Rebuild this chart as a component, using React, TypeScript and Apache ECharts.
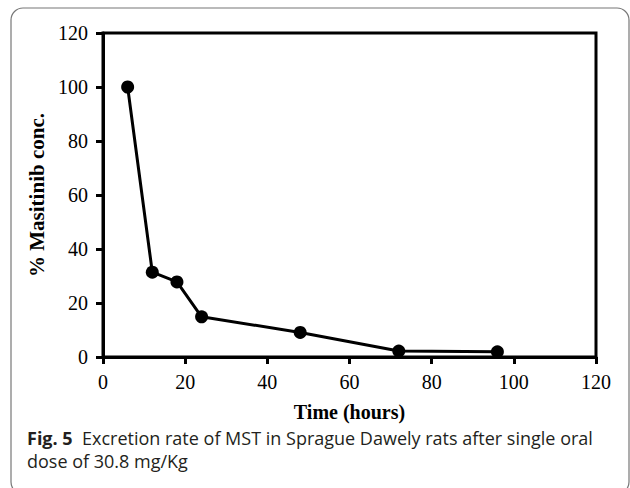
import React, { useEffect, useRef } from "react";
import * as echarts from "echarts";

const hours = [6, 12, 18, 24, 48, 72, 96];
const concentration = [100, 31.4, 27.8, 14.9, 9.1, 2.2, 1.9];
const xTicks = [0, 20, 40, 60, 80, 100, 120];
const yTicks = [0, 20, 40, 60, 80, 100, 120];
const xTitle = "Time (hours)";
const yTitle = "% Masitinib conc.";
const captionBold = "Fig. 5";
const captionLine1 = "  Excretion rate of MST in Sprague Dawely rats after single oral";
const captionLine2 = "dose of 30.8 mg/Kg";

export default function App() {
  const ref = useRef<HTMLDivElement>(null);
  useEffect(() => {
    if (!ref.current) return;
    const chart = echarts.init(ref.current, null, { renderer: "svg" });
    const serif = "'Liberation Serif', serif";
    const sans = "'Open Sans', 'Noto Sans', sans-serif";
    chart.setOption({
      animation: false,
      backgroundColor: "#fff",
      grid: {
        left: 103,
        right: 34,
        top: 33,
        bottom: 131,
        show: true,
        borderColor: "#000",
        borderWidth: 3,
      },
      xAxis: {
        type: "value",
        min: xTicks[0],
        max: xTicks[xTicks.length - 1],
        interval: 20,
        name: xTitle,
        nameLocation: "middle",
        nameGap: 45,
        nameTextStyle: { fontFamily: serif, fontWeight: "bold", fontSize: 20, color: "#000" },
        axisLine: { show: true, lineStyle: { color: "#000", width: 3 } },
        axisTick: { show: true, length: 7, lineStyle: { color: "#000", width: 3 } },
        axisLabel: { margin: 15, fontFamily: serif, fontSize: 20, color: "#000" },
        splitLine: { show: false },
      },
      yAxis: {
        type: "value",
        min: yTicks[0],
        max: yTicks[yTicks.length - 1],
        interval: 20,
        name: yTitle,
        nameLocation: "middle",
        nameGap: 48,
        nameRotate: 90,
        nameTextStyle: { fontFamily: serif, fontWeight: "bold", fontSize: 21, color: "#000" },
        axisLine: { show: true, lineStyle: { color: "#000", width: 3 } },
        axisTick: { show: true, length: 7, lineStyle: { color: "#000", width: 3 } },
        axisLabel: { margin: 15, fontFamily: serif, fontSize: 20, color: "#000" },
        splitLine: { show: false },
      },
      series: [
        {
          type: "line",
          data: hours.map((h, i) => [h, concentration[i]]),
          symbol: "circle",
          symbolSize: 13,
          lineStyle: { color: "#000", width: 3 },
          itemStyle: { color: "#000" },
        },
      ],
      graphic: [
        {
          type: "rect",
          shape: { x: 11, y: 8, width: 618, height: 486, r: 12 },
          style: { fill: "none", stroke: "#777", lineWidth: 1.2 },
          silent: true,
        },
        {
          type: "text",
          left: 27,
          top: 429,
          style: {
            text: `{b|${captionBold}}{n|${captionLine1}}`,
            rich: {
              b: { fontFamily: sans, fontWeight: "bold", fontSize: 18, fill: "#231f20" },
              n: { fontFamily: sans, fontSize: 18, fill: "#231f20" },
            },
          },
        },
        {
          type: "text",
          left: 27,
          top: 452,
          style: {
            text: captionLine2,
            fontFamily: sans,
            fontSize: 18,
            fill: "#231f20",
          },
        },
      ],
    });
    return () => chart.dispose();
  }, []);
  return (
    <div
      ref={ref}
      style={{ position: "fixed", left: 0, top: 0, width: 630, height: 488 }}
    />
  );
}
